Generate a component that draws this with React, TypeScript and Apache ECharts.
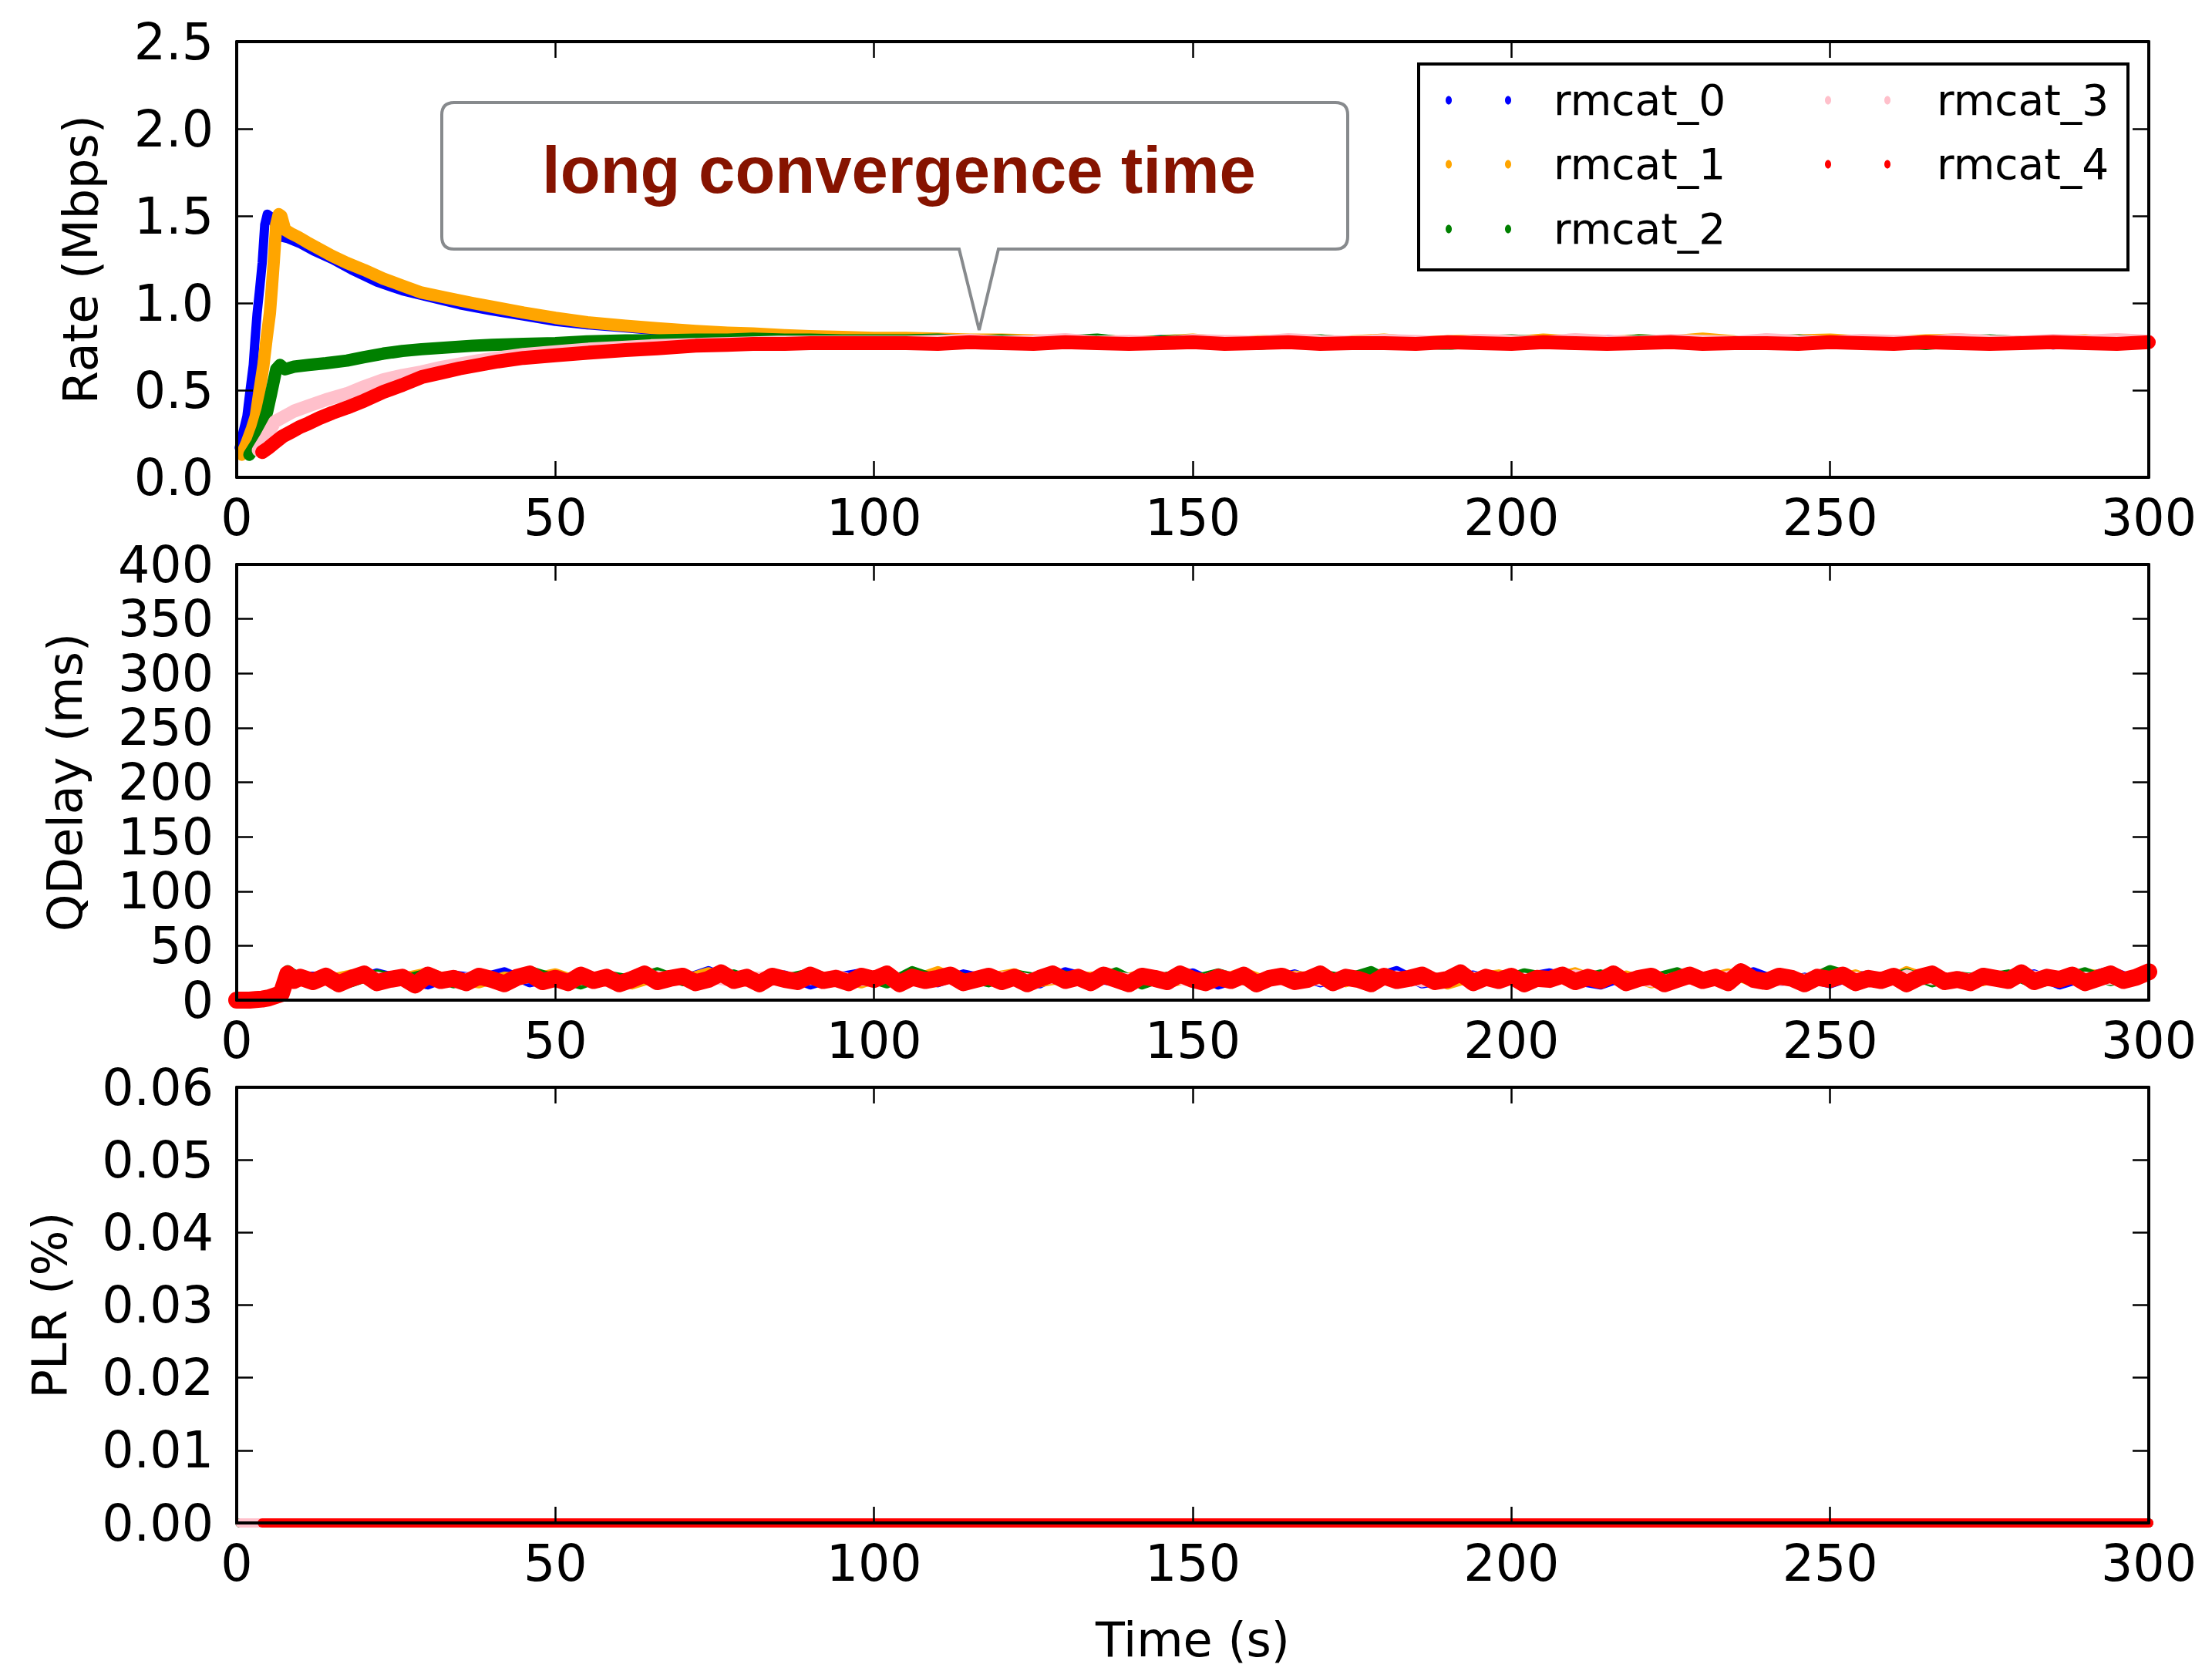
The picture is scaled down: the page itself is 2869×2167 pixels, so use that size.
import React, { useEffect, useRef } from "react";
import * as echarts from "echarts";

const FONT = "'DejaVu Sans', 'Noto Sans', sans-serif";

// ---------- series identity ----------
const seriesNames = ["rmcat_0", "rmcat_1", "rmcat_2", "rmcat_3", "rmcat_4"];
const seriesColors = ["#0000ff", "#ffa500", "#008000", "#ffc0cb", "#ff0000"];

// ---------- tick values ----------
const timeTicks = [0, 50, 100, 150, 200, 250, 300];
const rateTicks = [0, 0.5, 1.0, 1.5, 2.0, 2.5];
const qdelayTicks = [0, 50, 100, 150, 200, 250, 300, 350, 400];
const plrTicks = [0, 0.01, 0.02, 0.03, 0.04, 0.05, 0.06];

// ---------- Rate (Mbps): start-up phase ----------
const rate0T = [0.4, 1.0, 1.6, 2.1, 2.6, 2.9, 3.2, 3.6, 4.0, 4.4, 4.8, 5.2, 6, 6.8, 8, 10, 12, 15, 18, 22, 26, 30, 35, 40, 45, 50, 55, 60, 65, 70, 75, 80, 85, 90, 95, 100];
const rate0V = [0.17, 0.26, 0.35, 0.50, 0.645, 0.80, 0.94, 1.08, 1.23, 1.45, 1.51, 1.50, 1.45, 1.38, 1.37, 1.34, 1.30, 1.25, 1.19, 1.12, 1.07, 1.035, 0.99, 0.955, 0.925, 0.895, 0.875, 0.86, 0.845, 0.83, 0.82, 0.81, 0.80, 0.795, 0.79, 0.785];

const rate1T = [0.8, 1.6, 2.4, 3.0, 3.6, 4.2, 4.7, 5.2, 5.5, 5.8, 6.2, 6.6, 7.0, 7.6, 8.5, 9.6, 11, 12.5, 15, 17.3, 20, 23, 26, 29, 33, 37, 40, 45, 50, 55, 61, 66, 72, 77, 81, 86, 90, 95, 100];
const rate1V = [0.13, 0.20, 0.28, 0.35, 0.50, 0.645, 0.80, 0.94, 1.08, 1.23, 1.45, 1.51, 1.50, 1.42, 1.40, 1.38, 1.35, 1.32, 1.27, 1.23, 1.19, 1.14, 1.10, 1.06, 1.03, 1.00, 0.98, 0.945, 0.915, 0.89, 0.87, 0.855, 0.84, 0.83, 0.825, 0.815, 0.81, 0.805, 0.80];

const rate2T = [2.0, 3.2, 4.0, 4.8, 5.4, 6.2, 6.8, 7.6, 9, 11.3, 14, 17.3, 20, 23, 26, 29, 33, 37, 40, 45, 50, 55, 61, 66, 72, 77, 81, 86, 90, 95, 100];
const rate2V = [0.13, 0.20, 0.28, 0.38, 0.48, 0.62, 0.645, 0.62, 0.635, 0.645, 0.655, 0.67, 0.69, 0.71, 0.725, 0.735, 0.745, 0.755, 0.76, 0.765, 0.77, 0.78, 0.785, 0.785, 0.79, 0.79, 0.795, 0.79, 0.79, 0.785, 0.785];

const rate3T = [3.4, 4.5, 6.0, 7.5, 9, 11.3, 14, 17.3, 20, 23, 26, 29, 32, 35, 38, 41, 45, 50, 55, 60, 65, 70, 75, 80, 85, 90, 95, 100];
const rate3V = [0.155, 0.22, 0.32, 0.35, 0.38, 0.41, 0.445, 0.48, 0.52, 0.56, 0.585, 0.605, 0.63, 0.65, 0.67, 0.685, 0.705, 0.72, 0.735, 0.745, 0.755, 0.76, 0.765, 0.77, 0.775, 0.775, 0.775, 0.775];

const rate4T = [4.0, 5, 6, 7.2, 8.5, 10, 11.3, 13, 15, 17.3, 20, 23, 26, 29, 32, 35, 38, 41, 45, 50, 55, 61, 66, 72, 77, 81, 86, 90, 95, 100];
const rate4V = [0.145, 0.17, 0.20, 0.235, 0.26, 0.29, 0.31, 0.34, 0.37, 0.40, 0.44, 0.49, 0.53, 0.575, 0.60, 0.625, 0.645, 0.665, 0.685, 0.70, 0.715, 0.73, 0.74, 0.755, 0.76, 0.765, 0.765, 0.77, 0.77, 0.77];

// ---------- Rate (Mbps): steady phase ----------
const steadyT = [105, 110, 115, 120, 125, 130, 135, 140, 145, 150, 155, 160, 165, 170, 175, 180, 185, 190, 195, 200, 205, 210, 215, 220, 225, 230, 235, 240, 245, 250, 255, 260, 265, 270, 275, 280, 285, 290, 295, 300];
const steady0 = [0.785, 0.78, 0.79, 0.775, 0.78, 0.785, 0.77, 0.78, 0.79, 0.775, 0.78, 0.77, 0.785, 0.78, 0.775, 0.79, 0.78, 0.77, 0.775, 0.785, 0.78, 0.775, 0.79, 0.78, 0.765, 0.785, 0.775, 0.78, 0.79, 0.775, 0.78, 0.77, 0.785, 0.78, 0.775, 0.78, 0.76, 0.775, 0.765, 0.77];
const steady1 = [0.80, 0.795, 0.79, 0.79, 0.785, 0.78, 0.785, 0.775, 0.78, 0.79, 0.775, 0.78, 0.785, 0.77, 0.78, 0.79, 0.775, 0.78, 0.785, 0.775, 0.79, 0.78, 0.775, 0.785, 0.78, 0.795, 0.78, 0.775, 0.785, 0.79, 0.78, 0.775, 0.785, 0.79, 0.78, 0.775, 0.78, 0.785, 0.775, 0.78];
const steady2 = [0.785, 0.79, 0.78, 0.785, 0.775, 0.78, 0.79, 0.77, 0.78, 0.785, 0.775, 0.765, 0.78, 0.785, 0.77, 0.78, 0.775, 0.765, 0.78, 0.785, 0.775, 0.78, 0.77, 0.785, 0.78, 0.765, 0.775, 0.78, 0.785, 0.77, 0.78, 0.775, 0.765, 0.78, 0.785, 0.775, 0.77, 0.78, 0.785, 0.775];
const steady3 = [0.775, 0.78, 0.785, 0.775, 0.78, 0.79, 0.775, 0.78, 0.77, 0.785, 0.78, 0.775, 0.79, 0.78, 0.775, 0.785, 0.78, 0.77, 0.785, 0.78, 0.775, 0.79, 0.78, 0.775, 0.785, 0.78, 0.775, 0.79, 0.78, 0.775, 0.785, 0.78, 0.775, 0.79, 0.78, 0.775, 0.785, 0.78, 0.79, 0.78];
const steady4 = [0.77, 0.765, 0.775, 0.77, 0.765, 0.775, 0.77, 0.765, 0.77, 0.775, 0.765, 0.77, 0.775, 0.765, 0.77, 0.77, 0.765, 0.775, 0.77, 0.765, 0.775, 0.77, 0.765, 0.77, 0.775, 0.765, 0.77, 0.77, 0.765, 0.775, 0.77, 0.765, 0.775, 0.77, 0.765, 0.77, 0.775, 0.77, 0.765, 0.775];

// ---------- QDelay (ms) ----------
const qFineT = [0, 1, 2, 3, 4, 5, 6, 7, 8, 9, 10, 12, 14, 16, 18, 20, 22, 24, 26, 28, 30, 32, 34, 36, 38, 40, 42, 44, 46, 48, 50, 52, 54, 56, 58, 60, 62, 64, 66, 68, 70, 72, 74, 76, 78, 80, 82, 84, 86, 88, 90, 92, 94, 96, 98, 100, 102, 104, 106, 108, 110, 112, 114, 116, 118, 120, 122, 124, 126, 128, 130, 132, 134, 136, 138, 140, 142, 144, 146, 148, 150, 152, 154, 156, 158, 160, 162, 164, 166, 168, 170, 172, 174, 176, 178, 180, 182, 184, 186, 188, 190, 192, 194, 196, 198, 200, 202, 204, 206, 208, 210, 212, 214, 216, 218, 220, 222, 224, 226, 228, 230, 232, 234, 236, 238, 240, 242, 244, 246, 248, 250, 252, 254, 256, 258, 260, 262, 264, 266, 268, 270, 272, 274, 276, 278, 280, 282, 284, 286, 288, 290, 292, 294, 296, 298, 300];
const qdelay4 = [0, 0, 0, 0.5, 1, 2, 4, 6, 24, 18, 21,
  17, 22, 15, 20, 24, 16, 19, 21, 14, 23, 18, 20, 16, 22, 19, 15, 21, 24, 17,
  20, 16, 23, 18, 21, 15, 19, 24, 17, 20, 22, 16, 19, 25, 18, 21, 15, 22, 19, 17,
  23, 18, 20, 16, 22, 19, 24, 15, 21, 18, 20, 23, 16, 19, 22, 17, 21, 15, 20, 24,
  18, 21, 16, 23, 19, 15, 22, 20, 17, 24, 19, 16, 21, 18, 23, 15, 20, 22, 17, 19,
  24, 16, 21, 19, 15, 22, 18, 20, 23, 17, 19, 25, 16, 21, 18, 22, 15, 20, 19, 23,
  17, 21, 18, 24, 16, 20, 22, 15, 19, 23, 18, 21, 16, 26, 19, 17, 22, 20, 15, 21,
  19, 23, 16, 20, 18, 22, 15, 21, 24, 17, 19, 16, 22, 20, 18, 25, 17, 21, 19, 23,
  16, 20, 24, 18, 21, 26];

const qCoarseT = [0, 1, 2, 3, 4, 5, 6, 7, 8, 10, 14, 18, 22, 26, 30, 34, 38, 42, 46, 50, 54, 58, 62, 66, 70, 74, 78, 82, 86, 90, 94, 98, 102, 106, 110, 114, 118, 122, 126, 130, 134, 138, 142, 146, 150, 154, 158, 162, 166, 170, 174, 178, 182, 186, 190, 194, 198, 202, 206, 210, 214, 218, 222, 226, 230, 234, 238, 242, 246, 250, 254, 258, 262, 266, 270, 274, 278, 282, 286, 290, 294, 298];
const qdelay0 = [0, 0, 0, 0, 0, 1, 2, 4, 26, 22,
  22, 17, 25, 19, 14, 23, 20, 26, 16, 21, 18, 24, 15, 22, 19, 27, 17, 20, 23, 14,
  21, 25, 18, 20, 16, 24, 19, 22, 15, 26, 20, 17, 23, 19, 25, 14, 21, 18, 24, 16,
  22, 20, 27, 15, 19, 23, 17, 21, 25, 18, 14, 22, 20, 24, 16, 19, 26, 17, 21, 15,
  23, 20, 18, 25, 16, 22, 19, 24, 14, 21, 27, 18];
const qdelay1 = [0, 0, 0, 0, 0, 1, 2, 3, 25, 21,
  19, 24, 16, 21, 26, 18, 15, 22, 20, 25, 17, 23, 14, 21, 19, 26, 18, 22, 16, 24,
  20, 15, 23, 19, 27, 17, 21, 25, 16, 20, 22, 18, 24, 15, 21, 19, 26, 17, 23, 20,
  16, 25, 19, 22, 14, 21, 24, 18, 20, 26, 17, 23, 15, 21, 19, 25, 16, 22, 20, 18,
  24, 15, 27, 19, 21, 17, 23, 20, 16, 25, 22, 19];
const qdelay2 = [0, 0, 0, 0, 1, 2, 3, 5, 28, 20,
  21, 16, 24, 19, 25, 15, 22, 18, 27, 20, 14, 23, 19, 26, 17, 21, 24, 16, 20, 25,
  18, 22, 15, 27, 19, 21, 16, 24, 20, 23, 17, 26, 14, 22, 19, 25, 18, 21, 16, 24,
  20, 27, 15, 23, 19, 22, 17, 25, 21, 18, 24, 16, 20, 26, 15, 22, 19, 23, 17, 28,
  21, 18, 25, 16, 22, 20, 24, 15, 19, 26, 17, 23];
const qdelay3 = [0, 0, 0, 0, 1, 2, 3, 5, 24, 20,
  20, 18, 22, 17, 21, 19, 23, 16, 20, 22, 18, 21, 17, 23, 19, 20, 16, 22, 21, 18,
  24, 17, 20, 19, 22, 16, 21, 23, 18, 20, 17, 22, 19, 21, 16, 24, 20, 18, 22, 17,
  21, 19, 23, 16, 20, 22, 18, 21, 17, 24, 19, 20, 16, 22, 18, 23, 21, 17, 20, 19,
  22, 16, 24, 18, 21, 20, 17, 23, 19, 22, 18, 20];

// ---------- PLR (%) ----------
const plrT = [0.5, 5, 50, 100, 150, 200, 250, 300];
const plr0 = [0, 0, 0, 0, 0, 0, 0, 0];
const plr1 = [0, 0, 0, 0, 0, 0, 0, 0];
const plr2 = [0, 0, 0, 0, 0, 0, 0, 0];
const plr3 = [0, 0, 0, 0, 0, 0, 0, 0];
const plr4T = [4, 50, 100, 150, 200, 250, 300];
const plr4 = [0, 0, 0, 0, 0, 0, 0];

// ---------- annotation / legend text ----------
const calloutText = "long convergence time";
const axisNames = ["Rate (Mbps)", "QDelay (ms)", "PLR (%)"];
const xAxisName = "Time (s)";

// ---------- callout outline (registered path shape) ----------
const CALLOUT_D =
  "M589,133 H1732 Q1748,133 1748,149 V307 Q1748,323 1732,323 H1295 L1270,428 L1244,323 H589 Q573,323 573,307 V149 Q573,133 589,133 Z";
echarts.graphic.registerShape("callout", echarts.graphic.extendPath(CALLOUT_D, {}));

const zip = (t: number[], v: number[]) => t.map((x, i) => [x, v[i]]);

export default function App() {
  const ref = useRef<HTMLDivElement>(null);

  useEffect(() => {
    if (!ref.current) return;
    const chart = echarts.init(ref.current, undefined, { renderer: "svg" });

    const gridBoxes = [
      { left: 307, top: 54, width: 2480, height: 565 },
      { left: 307, top: 732, width: 2480, height: 565 },
      { left: 307, top: 1410, width: 2480, height: 565 },
    ];
    const yTickSets = [rateTicks, qdelayTicks, plrTicks];
    const yDigits = [1, 0, 2];
    const yNameGaps = [172, 192, 212];

    const lineCol = "#000";
    const xAxes: any[] = [];
    const yAxes: any[] = [];
    gridBoxes.forEach((_, i) => {
      const xBase = {
        gridIndex: i,
        type: "value",
        min: timeTicks[0],
        max: timeTicks[timeTicks.length - 1],
        interval: timeTicks[1] - timeTicks[0],
        z: 10,
        axisLine: { onZero: false, lineStyle: { color: lineCol, width: 4 } },
        axisTick: { inside: true, length: 21, lineStyle: { color: lineCol, width: 2.5 } },
        splitLine: { show: false },
      };
      xAxes.push({
        ...xBase,
        position: "bottom",
        axisLabel: {
          fontSize: 65, fontFamily: FONT, color: "#000", margin: 20,
          showMinLabel: true, showMaxLabel: true,
        },
        ...(i === 2
          ? {
              name: xAxisName, nameLocation: "middle", nameGap: 120,
              nameTextStyle: { fontSize: 62, fontFamily: FONT, color: "#000" },
            }
          : {}),
      });
      xAxes.push({ ...xBase, position: "top", axisLabel: { show: false } });

      const ticks = yTickSets[i];
      const yBase = {
        gridIndex: i,
        type: "value",
        min: ticks[0],
        max: ticks[ticks.length - 1],
        interval: ticks[1] - ticks[0],
        z: 10,
        axisLine: { show: true, onZero: false, lineStyle: { color: lineCol, width: 4 } },
        axisTick: { show: true, inside: true, length: 21, lineStyle: { color: lineCol, width: 2.5 } },
        splitLine: { show: false },
      };
      yAxes.push({
        ...yBase,
        position: "left",
        name: axisNames[i],
        nameLocation: "middle",
        nameGap: yNameGaps[i],
        nameTextStyle: { fontSize: 62, fontFamily: FONT, color: "#000" },
        axisLabel: {
          fontSize: 65, fontFamily: FONT, color: "#000", margin: 30,
          showMinLabel: true, showMaxLabel: true,
          formatter: (v: number) => v.toFixed(yDigits[i]),
        },
      });
      yAxes.push({ ...yBase, position: "right", axisLabel: { show: false } });
    });

    const mk = (panel: number, idx: number, data: number[][], width: number) => ({
      type: "line",
      name: seriesNames[idx],
      xAxisIndex: panel * 2,
      yAxisIndex: panel * 2,
      data,
      showSymbol: false,
      symbol: "none",
      silent: true,
      clip: true,
      z: 2,
      lineStyle: { color: seriesColors[idx], width, cap: "round", join: "round" },
      itemStyle: { color: seriesColors[idx] },
    });

    const rateData = [
      zip(rate0T, rate0V).concat(zip(steadyT, steady0)),
      zip(rate1T, rate1V).concat(zip(steadyT, steady1)),
      zip(rate2T, rate2V).concat(zip(steadyT, steady2)),
      zip(rate3T, rate3V).concat(zip(steadyT, steady3)),
      zip(rate4T, rate4V).concat(zip(steadyT, steady4)),
    ];
    const rateWidths = [12, 16, 16, 17, 18];
    const qData = [
      zip(qCoarseT, qdelay0),
      zip(qCoarseT, qdelay1),
      zip(qCoarseT, qdelay2),
      zip(qCoarseT, qdelay3),
      zip(qFineT, qdelay4),
    ];
    const qWidths = [12, 12, 12, 12, 22];
    const plrData = [
      zip(plrT, plr0),
      zip(plrT, plr1),
      zip(plrT, plr2),
      zip(plrT, plr3),
      zip(plr4T, plr4),
    ];

    const series: any[] = [];
    for (let k = 0; k < 5; k++) series.push(mk(0, k, rateData[k], rateWidths[k]));
    for (let k = 0; k < 5; k++) series.push(mk(1, k, qData[k], qWidths[k]));
    for (let k = 0; k < 5; k++) series.push(mk(2, k, plrData[k], 12));

    // legend drawn as graphic: two dots + label per entry, in a framed box
    const legendRows = [130, 213, 297];
    const legendDotX = [[1879, 1956], [2371, 2448]];
    const legendTextX = [2015, 2512];
    const legendEls: any[] = [
      {
        type: "rect",
        shape: { x: 1840, y: 83, width: 920, height: 267 },
        style: { fill: "#fff", stroke: "#000", lineWidth: 4 },
        z: 100,
      },
    ];
    seriesNames.forEach((nm, k) => {
      const col = k < 3 ? 0 : 1;
      const row = k < 3 ? k : k - 3;
      const cy = legendRows[row];
      legendDotX[col].forEach((cx) => {
        legendEls.push({
          type: "ellipse",
          shape: { cx, cy, rx: 4, ry: 5.5 },
          style: { fill: seriesColors[k] },
          z: 101,
        });
      });
      legendEls.push({
        type: "text",
        x: legendTextX[col],
        y: cy,
        style: {
          text: nm, fontSize: 55, fontFamily: FONT, fill: "#000",
          align: "left", verticalAlign: "middle",
        },
        z: 101,
      });
    });

    const option: any = {
      animation: false,
      backgroundColor: "#ffffff",
      grid: gridBoxes.map((g) => ({ ...g, containLabel: false })),
      xAxis: xAxes,
      yAxis: yAxes,
      series,
      graphic: [
        {
          type: "callout",
          x: 0,
          y: 0,
          style: { fill: "#ffffff", stroke: "#878a8d", lineWidth: 4 },
          z: 100,
        },
        {
          type: "text",
          x: 1166,
          y: 220,
          style: {
            text: calloutText,
            fontSize: 85,
            fontWeight: "bold",
            fontFamily: "'Liberation Sans', Arial, Helvetica, sans-serif",
            fill: "#861300",
            align: "center",
            verticalAlign: "middle",
          },
          z: 101,
        },
        ...legendEls,
      ],
    };
    chart.setOption(option);
    return () => chart.dispose();
  }, []);

  return (
    <div
      ref={ref}
      style={{ position: "fixed", left: 0, top: 0, width: 2869, height: 2167, background: "#fff" }}
    />
  );
}
